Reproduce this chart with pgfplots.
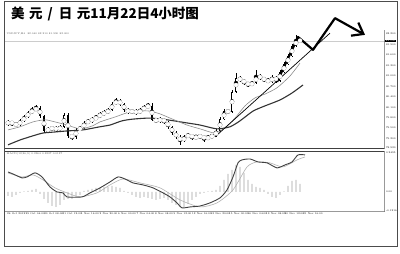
\documentclass[border=0pt]{standalone}
\usepackage{pgfplots}
\pgfplotsset{compat=1.18}
\usepackage{pgfplotstable}
\usepackage{fontspec}
\newfontfamily\cjk{Noto Sans CJK SC}
\usetikzlibrary{arrows.meta}

\pgfplotstableread{
i o h l c
0 79.62 79.74 79.56 79.68
1 79.68 79.71 79.56 79.62
2 79.62 79.68 79.54 79.59
3 79.59 79.76 79.56 79.71
4 79.71 79.88 79.68 79.82
5 79.82 79.99 79.79 79.94
6 79.94 80.11 79.91 80.02
7 80.02 80.17 79.99 80.08
8 80.08 80.14 79.79 79.85
9 79.85 79.88 79.36 79.42
10 79.42 79.54 79.36 79.48
11 79.48 79.56 79.42 79.51
12 79.51 79.56 79.39 79.45
13 79.45 79.59 79.42 79.54
14 79.54 79.94 79.51 79.88
15 79.88 79.94 79.22 79.28
16 79.28 79.33 79.16 79.25
17 79.25 79.51 79.19 79.45
18 79.45 79.56 79.42 79.51
19 79.51 79.71 79.48 79.65
20 79.65 79.76 79.62 79.71
21 79.71 79.82 79.65 79.76
22 79.76 79.88 79.74 79.82
23 79.82 79.97 79.79 79.91
24 79.91 80.02 79.85 79.94
25 79.94 80.08 79.91 80.02
26 80.02 80.25 79.99 80.20
27 80.20 80.37 80.17 80.28
28 80.28 80.34 80.14 80.20
29 80.20 80.22 79.97 80.02
30 80.02 80.08 79.91 79.97
31 79.97 80.05 79.91 79.99
32 79.99 80.05 79.88 79.94
33 79.94 80.08 79.91 80.02
34 80.02 80.17 79.99 80.11
35 80.11 80.22 80.08 80.14
36 80.14 80.22 79.71 79.74
37 79.74 79.79 79.65 79.71
38 79.71 79.82 79.65 79.76
39 79.76 79.79 79.62 79.68
40 79.68 79.71 79.48 79.54
41 79.54 79.56 79.31 79.36
42 79.36 79.42 79.19 79.25
43 79.25 79.31 79.02 79.13
44 79.13 79.31 79.10 79.25
45 79.25 79.36 79.22 79.31
46 79.31 79.33 79.16 79.22
47 79.22 79.31 79.19 79.25
48 79.25 79.33 79.19 79.28
49 79.28 79.31 79.10 79.19
50 79.19 79.31 79.16 79.25
51 79.25 79.33 79.22 79.28
52 79.28 79.48 79.25 79.42
53 79.42 79.82 79.39 79.76
54 79.76 80.05 79.74 79.99
55 79.99 80.05 79.91 79.97
56 79.97 80.60 79.94 80.54
57 80.54 81.08 80.51 80.94
58 80.94 81.00 80.83 80.88
59 80.88 80.91 80.74 80.80
60 80.80 80.83 80.68 80.74
61 80.74 80.86 80.71 80.80
62 80.80 81.17 80.77 81.00
63 81.00 81.06 80.88 80.94
64 80.94 80.97 80.83 80.88
65 80.88 80.94 80.80 80.83
66 80.83 81.03 80.80 80.97
67 80.97 81.00 80.80 80.86
68 80.86 81.17 80.83 81.11
69 81.11 81.40 81.08 81.34
70 81.34 81.63 81.31 81.57
71 81.57 81.92 81.54 81.86
72 81.86 82.18 81.83 82.03
73 82.03 82.09 81.95 82.00
}\candles

\pgfplotstableread{
i v
0 -0.026
1 -0.032
2 -0.019
3 -0.006
4 0.003
5 0.006
6 0.013
7 0.019
8 -0.013
9 -0.045
10 -0.070
11 -0.090
12 -0.096
13 -0.083
14 -0.051
15 -0.045
16 -0.045
17 -0.032
18 -0.019
19 0.006
20 0.013
21 0.019
22 0.026
23 0.026
24 0.032
25 0.032
26 0.038
27 0.032
28 0.026
29 0.006
30 -0.006
31 -0.019
32 -0.032
33 -0.038
34 -0.032
35 -0.038
36 -0.045
37 -0.051
38 -0.045
39 -0.038
40 -0.051
41 -0.070
42 -0.083
43 -0.096
44 -0.096
45 -0.077
46 -0.051
47 -0.032
48 -0.013
49 -0.006
50 0.003
51 0.006
52 0.013
53 0.038
54 0.077
55 0.115
56 0.141
57 0.173
58 0.160
59 0.122
60 0.077
61 0.051
62 0.032
63 0.026
64 0.013
65 -0.013
66 -0.032
67 -0.038
68 -0.019
69 0.003
70 0.038
71 0.070
72 0.077
73 0.051
}\hist

\begin{document}
\begin{tikzpicture}
\useasboundingbox (0pt,0pt) rectangle (400pt,-254pt);
\draw[black!70, line width=1.3pt] (4.5pt,-1.2pt) rectangle (397.5pt,-246.8pt);
\node[anchor=base west, inner sep=0pt, font=\cjk\bfseries\fontsize{13.5}{14}\selectfont] at (11pt,-18.3pt)
  {美\hspace{4.5pt}元\hspace{5pt}/\hspace{6pt}日\hspace{4.5pt}元11月22日4小时图};

% ---------------- price panel ----------------
\begin{axis}[
  at={(5pt,-30pt)}, anchor=north west, scale only axis,
  width=379pt, height=118pt,
  xmin=-0.75, xmax=94, ymin=78.93, ymax=82.32,
  clip=false,
  axis x line*=bottom, axis y line*=right,
  x axis line style={-, black!75, line width=0.8pt},
  y axis line style={-, black!40, line width=0.5pt},
  xtick=\empty,
  ytick={78.93,79.20,79.50,79.80,80.10,80.40,80.70,81.00,81.30,81.60,81.90,82.20},
  tick align=outside, major tick length=1.2pt,
  tick style={black!50, line width=0.3pt},
  /pgf/number format/assume math mode=true,
  /pgf/number format/.cd, fixed, fixed zerofill, precision=3, /pgfplots/.cd,
  yticklabel style={font=\fontsize{2.5}{3}\selectfont, inner sep=0.6pt},
  extra y ticks={82.00}, extra y tick labels={82.000},
  extra y tick style={yticklabel style={fill=black, text=white, inner sep=0.5pt}},
]
% current price line
\addplot[black!20, line width=0.4pt] coordinates {(-0.75,82.00) (94,82.00)};
% wicks
\addplot[black, only marks, mark=none,
  error bars/.cd, y dir=both, y explicit, error mark=none,
  error bar style={line width=0.55pt, black}]
  table[x=i, y expr={(\thisrow{h}+\thisrow{l})/2}, y error expr={(\thisrow{h}-\thisrow{l})/2}] \candles;
% bodies
\addplot[black, only marks, mark=none,
  error bars/.cd, y dir=both, y explicit, error mark=none,
  error bar style={line width=2.2pt, black}]
  table[x=i, y expr={(\thisrow{o}+\thisrow{c})/2}, y error expr={max(abs(\thisrow{o}-\thisrow{c})/2,0.006)}] \candles;
% hollow bull bodies
\addplot[white, only marks, mark=none,
  error bars/.cd, y dir=both, y explicit, error mark=none,
  error bar style={line width=0.9pt, white}]
  table[x=i, y expr={(\thisrow{o}+\thisrow{c})/2}, y error expr={(\thisrow{c}>\thisrow{o}) ? max(abs(\thisrow{c}-\thisrow{o})/2-0.018,0) : 0}] \candles;
% long MA
\addplot[black!80, line width=1.1pt, smooth, tension=0.4] coordinates {
(0,79.02) (3,79.16) (6.25,79.28) (8.75,79.36) (11.75,79.39) (14.75,79.42)
(18.75,79.45) (23,79.54) (25.5,79.59) (28.5,79.71) (31.25,79.76) (35.5,79.79)
(39.75,79.74) (44.75,79.65) (48,79.59) (52.25,79.48) (55.5,79.54) (58,79.71)
(61.25,79.99) (64.25,80.14) (68,80.31) (71,80.51) (73.75,80.74)};
% short MA
\addplot[black!45, line width=0.6pt, smooth, tension=0.4] coordinates {
(0,79.45) (3,79.54) (6.25,79.68) (9.25,79.74) (11.75,79.68) (14.75,79.59)
(18,79.48) (21,79.56) (23,79.68) (26.75,79.82) (29.75,79.94) (33,79.99)
(35.5,79.99) (38,79.91) (40.5,79.79) (44.75,79.59) (48,79.48) (51.75,79.36)
(54.25,79.51) (56.75,79.79) (59.25,80.14) (61.75,80.37) (64.25,80.48)
(67.25,80.66) (70.5,81.00) (73,81.37)};
% hand drawn trend line
\addplot[black, line width=0.7pt] coordinates {(51.75,79.25) (80.5,82.23)};
% hand drawn zigzag arrow
\addplot[black, line width=2.2pt, line join=round,
  -{Straight Barb[length=10pt, width=15pt]}] coordinates {
(67.25,80.83) (72.5,82.12) (76.25,81.75) (81.75,82.66) (89.25,82.18)};
\node[anchor=west, inner sep=0pt, text=black!70, font=\fontsize{2.5}{3}\selectfont]
  at (rel axis cs:0.004,0.966) {USDJPY,H4 \ 82.040 82.210 81.990 82.000};
\end{axis}

% ---------------- MACD panel ----------------
\begin{axis}[
  at={(5pt,-151pt)}, anchor=north west, scale only axis,
  width=379pt, height=60pt,
  xmin=-0.75, xmax=94, ymin=-0.122, ymax=0.262,
  axis x line*=bottom, axis y line*=right,
  x axis line style={-, black!40, line width=0.5pt},
  y axis line style={-, black!40, line width=0.5pt},
  ytick={-0.1216,0,0.2495},
  yticklabels={-0.1216,0.00,0.2495},
  xtick={-0.25,4.375,9,13.625,18.25,22.875,27.5,32.125,36.75,41.375,46,50.625,55.25,59.875,64.5,69.125,73.75},
  xticklabels={26 Oct 2012,29 Oct 04:00,30 Oct 08:00,31 Oct 12:00,1 Nov 16:00,2 Nov 20:00,6 Nov 00:00,7 Nov 04:00,8 Nov 08:00,9 Nov 12:00,12 Nov 16:00,13 Nov 20:00,15 Nov 00:00,16 Nov 04:00,19 Nov 08:00,20 Nov 12:00,21 Nov 16:00},
  tick align=outside, major tick length=1.2pt,
  tick style={black!50, line width=0.3pt},
  yticklabel style={font=\fontsize{2.5}{3}\selectfont, inner sep=0.6pt},
  xticklabel style={font=\fontsize{2.5}{3}\selectfont, anchor=north west, inner sep=0.6pt, xshift=-0.6pt},
]
\draw[black!75, line width=0.8pt] (rel axis cs:0,1) -- (rel axis cs:1.005,1);
\addplot[ybar, bar width=0.9pt, bar shift=0pt, fill=black!38, draw=none] table[x=i, y=v] \hist;
\addplot[black!30, line width=0.6pt, smooth, tension=0.4] coordinates {
(0,0.122) (3.5,0.096) (6.25,0.109) (8.75,0.077) (11.75,0.026) (14.75,-0.006)
(18,-0.032) (22.25,-0.006) (25.5,0.045) (28.75,0.083) (33,0.058) (38,0.026)
(43,-0.051) (48,-0.096) (52.25,-0.070) (56.25,0.013) (59.75,0.160) (62.25,0.192)
(65.5,0.186) (68.75,0.160) (72.25,0.205) (74.25,0.224)};
\addplot[black!75, line width=0.9pt, smooth, tension=0.4] coordinates {
(0,0.128) (1.25,0.115) (3.5,0.090) (4.75,0.096) (6.75,0.122) (8.5,0.096)
(10.5,0.032) (12.25,0.000) (13.75,-0.006) (14.75,-0.032) (18.5,-0.032)
(20.5,-0.006) (23,0.026) (25.5,0.064) (27.5,0.096) (29.25,0.083) (31.25,0.058)
(33.75,0.045) (36.25,0.026) (38.75,-0.006) (40.5,-0.032) (42.25,-0.070)
(43.5,-0.102) (45.5,-0.096) (48,-0.090) (50.5,-0.070) (53,-0.038) (54.75,0.013)
(56.25,0.096) (57.5,0.186) (58.5,0.205) (60.5,0.211) (62.5,0.192) (64.75,0.186)
(67.25,0.154) (69.25,0.173) (71,0.192) (72.5,0.237) (74.25,0.237)};
\node[anchor=west, inner sep=0pt, text=black!70, font=\fontsize{2.5}{3}\selectfont]
  at (rel axis cs:0.004,0.95) {MACD(12,26,9) 0.2364 0.2237 0.0127};
\end{axis}
\end{tikzpicture}
\end{document}
